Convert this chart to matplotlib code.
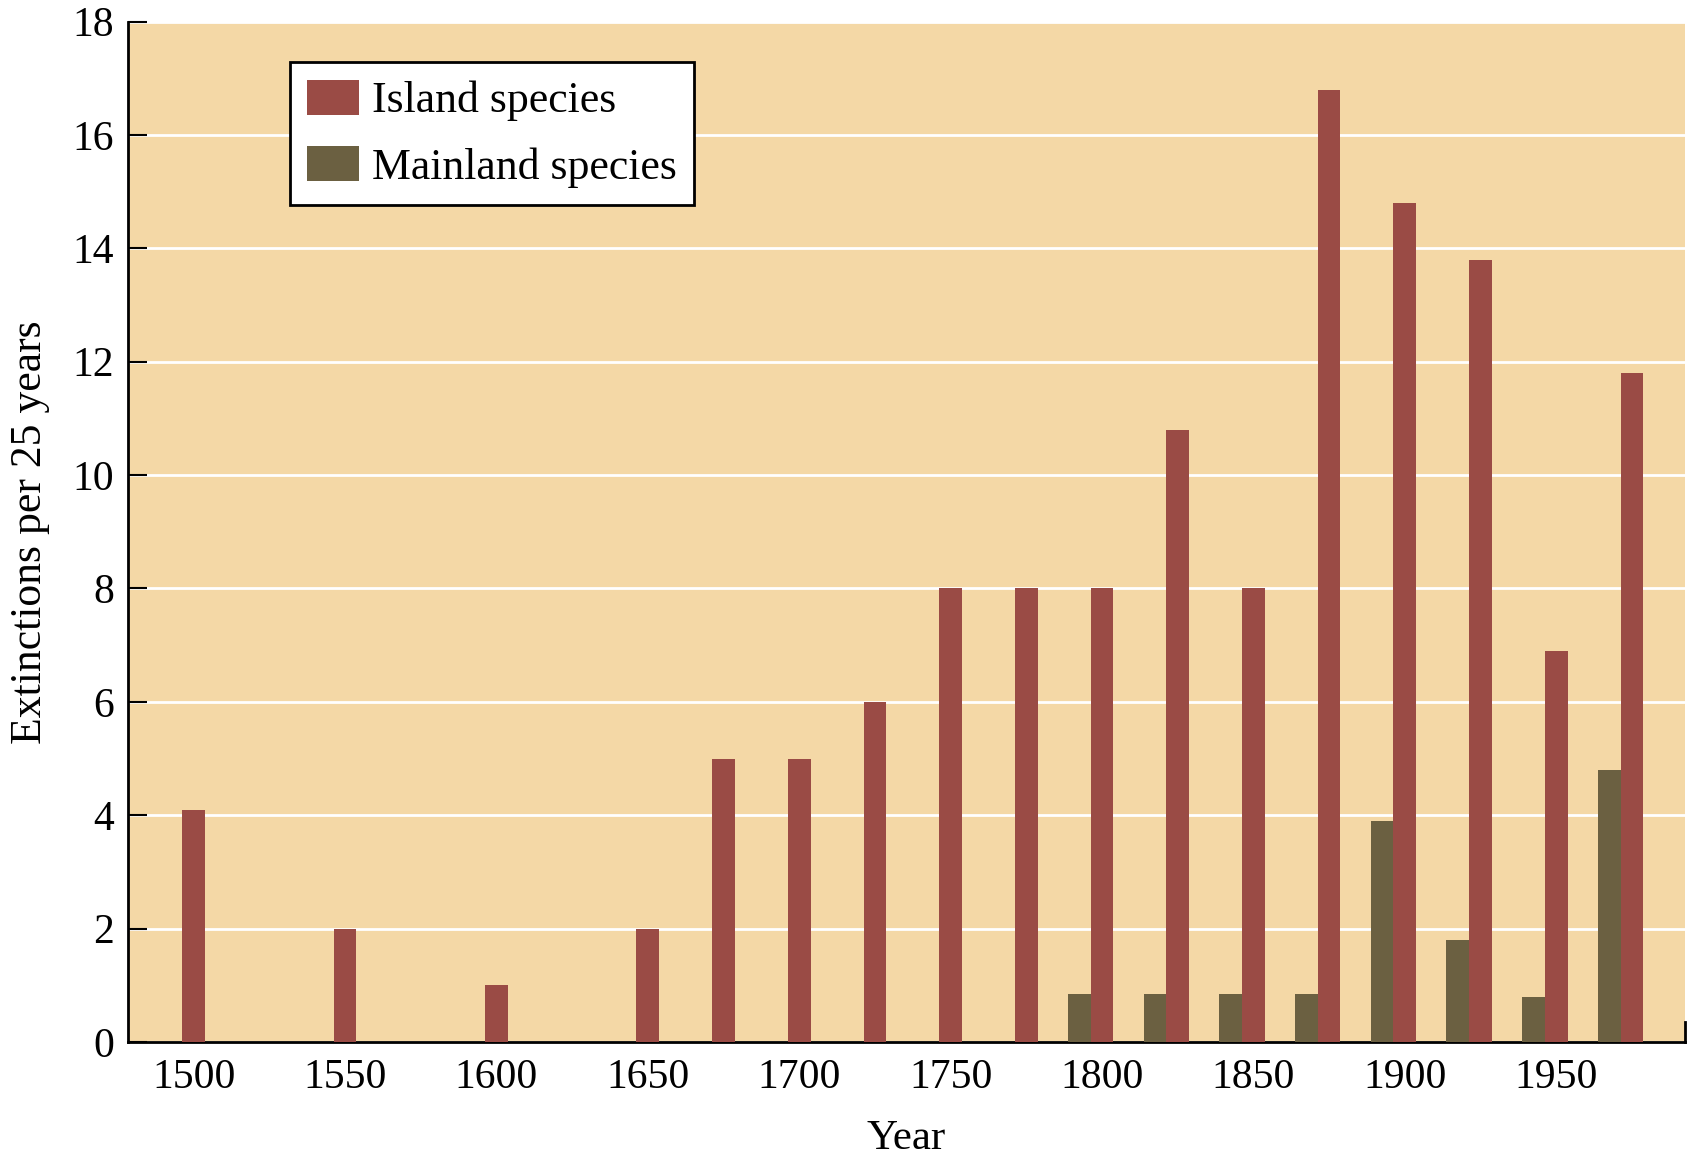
import matplotlib
matplotlib.use("Agg")
import matplotlib.pyplot as plt

# data
years = [1500, 1525, 1550, 1575, 1600, 1625, 1650, 1675, 1700, 1725,
         1750, 1775, 1800, 1825, 1850, 1875, 1900, 1925, 1950, 1975]
island = [4.1, 0, 2, 0, 1, 0, 2, 5, 5, 6,
          8, 8, 8, 10.8, 8, 16.8, 14.8, 13.8, 6.9, 11.8]
mainland = [0, 0, 0, 0, 0, 0, 0, 0, 0, 0,
            0, 0, 0.85, 0.85, 0.85, 0.85, 3.9, 1.8, 0.8, 4.8]
tick_years = [1500, 1550, 1600, 1650, 1700, 1750, 1800, 1850, 1900, 1950]
y_ticks = [0, 2, 4, 6, 8, 10, 12, 14, 16, 18]

bg = "#F4D8A6"
c_island = "#9A4B45"
c_main = "#6B6041"

plt.rcParams['font.family'] = ['Liberation Serif', 'DejaVu Serif']

fig = plt.figure(figsize=(16.9, 11.57), dpi=100)
ax = fig.add_axes([0.0757, 0.0994, 0.9213, 0.882])
ax.set_facecolor(bg)

w = 7.5
isl_x = [y for y, v in zip(years, island) if v > 0]
isl_v = [v for v in island if v > 0]
main_x = [y - w for y, v in zip(years, mainland) if v > 0]
main_v = [v for v in mainland if v > 0]

ax.bar(isl_x, isl_v, width=w, color=c_island, label="Island species", zorder=3)
ax.bar(main_x, main_v, width=w, color=c_main, label="Mainland species", zorder=3)

ax.set_xlim(1478.3, 1992.5)
ax.set_ylim(0, 18)
ax.set_yticks(y_ticks)
ax.set_xticks(tick_years)
ax.grid(axis='y', color='white', linewidth=2, zorder=1)

ax.tick_params(axis='y', direction='in', length=14, width=1.5, labelsize=30, pad=10)
ax.tick_params(axis='x', length=0, labelsize=30, pad=12)

for s in ['top', 'right']:
    ax.spines[s].set_visible(False)
ax.spines['left'].set_linewidth(2)
ax.spines['bottom'].set_linewidth(2)
# small end mark at bottom right
ax.axvline(1992.5, ymin=0, ymax=0.02, color='black', linewidth=2, clip_on=False)

ax.set_xlabel("Year", fontsize=31, labelpad=16)
ax.set_ylabel("Extinctions per 25 years", fontsize=31.5, labelpad=16)

leg = ax.legend(loc='upper left', bbox_to_anchor=(0.104, 0.96), borderaxespad=0,
                fontsize=31.5, fancybox=False, framealpha=1, edgecolor='black',
                handlelength=1.17, handleheight=0.85, labelspacing=0.56,
                handletextpad=0.3, borderpad=0.4)
leg.get_frame().set_linewidth(2)

fig.savefig("out.png", dpi=100, facecolor='white')
